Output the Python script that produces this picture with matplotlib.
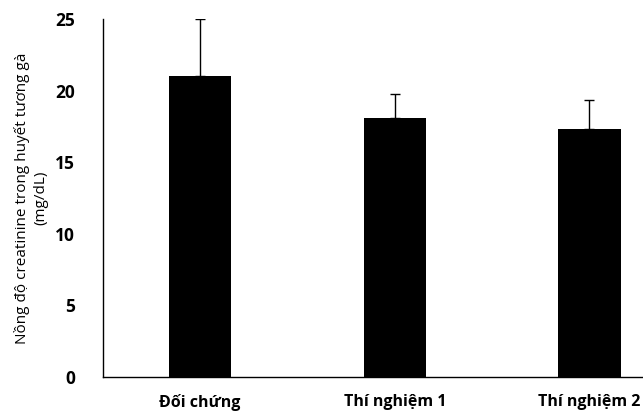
import matplotlib
matplotlib.use("Agg")
import matplotlib.pyplot as plt
import numpy as np

groups = ["Đối chứng", "Thí nghiệm 1", "Thí nghiệm 2"]
means = [21.0, 18.1, 17.3]
errs = [4.0, 1.65, 2.05]

plt.rcParams['font.family'] = ['Open Sans', 'DejaVu Sans']

fig = plt.figure(figsize=(6.43, 4.13), dpi=100)
ax = fig.add_axes([0.160, 0.087, 0.908, 0.867])

x = np.arange(len(groups))
ax.bar(x, means, width=0.32, color='black', zorder=2)
ax.errorbar(x, means, yerr=[np.zeros(len(errs)), errs], fmt='none',
            ecolor='black', elinewidth=1, capsize=3.5, capthick=1, zorder=1)

ax.set_xlim(-0.5, 2.5)
ax.set_ylim(0, 25)
ax.set_yticks([0, 5, 10, 15, 20, 25])
ax.set_xticks(x)
ax.set_xticklabels(groups, fontweight='bold', fontsize=11.5)
for lab in ax.get_yticklabels():
    lab.set_fontweight('bold')
    lab.set_fontsize(12.5)
ax.tick_params(axis='both', length=0)
ax.tick_params(axis='y', pad=20)
ax.tick_params(axis='x', pad=12)

ax.spines['top'].set_visible(False)
ax.spines['right'].set_visible(False)
ax.spines['left'].set_linewidth(1)
ax.spines['bottom'].set_linewidth(1)

ax.set_ylabel("Nồng độ creatinine trong huyết tương gà\n(mg/dL)", fontsize=11, linespacing=1.35)
ax.yaxis.set_label_coords(-0.093, 0.5)

fig.savefig("out.png", dpi=100)
